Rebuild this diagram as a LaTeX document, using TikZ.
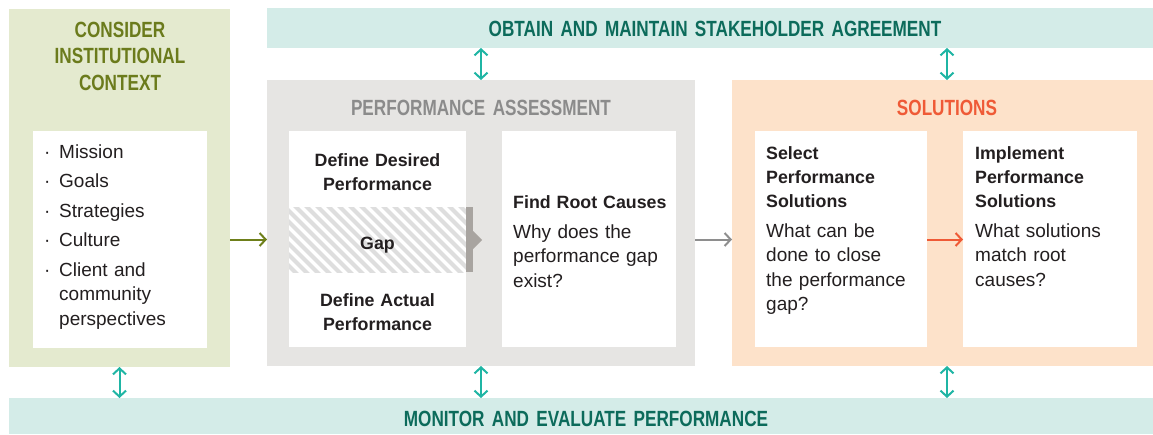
\documentclass[tikz,border=0pt]{standalone}
\usepackage{fontspec}
\setmainfont{Liberation Sans}
\newfontfamily\headfont{Liberation Sans Bold}[FakeStretch=0.78]
\usetikzlibrary{arrows.meta}
\definecolor{ctxbg}{HTML}{E4EACF}
\definecolor{ctxtitle}{HTML}{6B7B1C}
\definecolor{bandbg}{HTML}{D4ECE8}
\definecolor{bandtext}{HTML}{0C6B5B}
\definecolor{tealarrow}{HTML}{1FB5A4}
\definecolor{pabg}{HTML}{E6E5E3}
\definecolor{patitle}{HTML}{8B8B8B}
\definecolor{barc}{HTML}{A8A4A0}
\definecolor{solbg}{HTML}{FDE2CA}
\definecolor{soltitle}{HTML}{EF5A36}
\definecolor{stripe}{HTML}{DEDEDE}
\definecolor{grayarrow}{HTML}{8E8E8E}
\definecolor{greenarrow}{HTML}{6E7F1A}
\definecolor{ink}{HTML}{231F20}
\tikzset{
  box/.style={inner sep=0pt, outer sep=0pt, anchor=north west, draw=none},
  head/.style={inner sep=0pt, anchor=base, align=center, text width=300pt,
    font=\headfont\fontsize{22}{26.5}\selectfont},
  bodytext/.style={inner sep=0pt, anchor=base west, align=left, text=ink,
    font=\fontsize{19}{24.5}\selectfont},
  boldtext/.style={inner sep=0pt, anchor=base, align=center, text=ink, text width=170pt,
    font=\bfseries\fontsize{17.8}{24}\selectfont},
  dbl/.style={draw=tealarrow, line width=2pt,
    {Straight Barb[length=6pt,width=13pt]}-{Straight Barb[length=6pt,width=13pt]}},
  flow/.style={line width=2pt, -{Straight Barb[length=6pt,width=13pt]}},
}
\newcommand{\bulletitem}[1]{\makebox[15pt][l]{·}\begin{tabular}[t]{@{}l@{}}#1\end{tabular}\par}
\begin{document}
\begin{tikzpicture}[x=1pt,y=-1pt]
\useasboundingbox (0,0) rectangle (1153,434);
% containers
\node[box, fill=ctxbg, minimum width=221pt, minimum height=358pt] (ctx) at (9,9) {};
\node[box, fill=white, minimum width=174pt, minimum height=217pt] (ctxin) at (33,131) {};
\node[box, fill=bandbg, minimum width=886pt, minimum height=40pt] (agree) at (267,8) {};
\node[box, fill=bandbg, minimum width=1144pt, minimum height=36pt] (monitor) at (9,398) {};
\node[box, fill=pabg, minimum width=428pt, minimum height=286pt] (pa) at (267,80) {};
\node[box, fill=white, minimum width=177pt, minimum height=216pt] (defbox) at (289,131) {};
\node[box, fill=white, minimum width=174pt, minimum height=216pt] (rootbox) at (502,131) {};
\node[box, fill=solbg, minimum width=430pt, minimum height=286pt] (sol) at (732,80) {};
\node[box, fill=white, minimum width=172pt, minimum height=216pt] (selbox) at (755,131) {};
\node[box, fill=white, minimum width=174pt, minimum height=216pt] (impbox) at (963,131) {};
% gap band
\node[box, minimum width=177pt, minimum height=65pt] (gapband) at (289,207) {};
\begin{scope}
  \clip (gapband.north west) rectangle (gapband.south east);
  \foreach \i in {-88,-77,...,190}
    \draw[stripe, line width=4pt] (289+\i,200) -- ++(80,80);
\end{scope}
\fill[barc] (466,207) rectangle (473,272);
\fill[barc] (473,231) -- (482,240) -- (473,249) -- cycle;
% titles
\node[head, text=ctxtitle] (ctxt) at (120,37) {CONSIDER\\INSTITUTIONAL\\CONTEXT};
\node[head, text=bandtext, text width=600pt] (agreet) at (715,36) {OBTAIN AND MAINTAIN STAKEHOLDER AGREEMENT};
\node[head, text=bandtext, text width=600pt] (monitort) at (586,426) {MONITOR AND EVALUATE PERFORMANCE};
\node[head, text=patitle] (pat) at (481,115) {PERFORMANCE ASSESSMENT};
\node[head, text=soltitle] (solt) at (947,115) {SOLUTIONS};
% context list
\node[bodytext, text width=165pt] (ctxlist) at (44,158) {%
  \setlength{\parskip}{5pt}\setlength{\tabcolsep}{0pt}%
  \bulletitem{Mission}
  \bulletitem{Goals}
  \bulletitem{Strategies}
  \bulletitem{Culture}
  \bulletitem{Client and\\community\\perspectives}};
% performance assessment texts
\node[boldtext] (desired) at (377.5,166) {Define Desired\\Performance};
\node[boldtext] (gapt) at (377.5,249) {Gap};
\node[boldtext] (actual) at (377.5,306) {Define Actual\\Performance};
\node[boldtext, anchor=base west, align=left, text width=165pt] (roott) at (513,208) {Find Root Causes};
\node[bodytext, text width=165pt] (rootq) at (513,238) {Why does the\\performance gap\\exist?};
% solutions texts
\node[boldtext, anchor=base west, align=left, text width=160pt] (selt) at (766,159) {Select\\Performance\\Solutions};
\node[bodytext, text width=160pt] (selq) at (766,237) {What can be\\done to close\\the performance\\gap?};
\node[boldtext, anchor=base west, align=left, text width=160pt] (impt) at (975,159) {Implement\\Performance\\Solutions};
\node[bodytext, text width=160pt] (impq) at (975,237) {What solutions\\match root\\causes?};
% connectors
\draw[flow, greenarrow] (ctx.east |- gapband.center) -- (pa.west |- gapband.center);
\draw[flow, grayarrow] (pa.east |- gapband.center) -- (sol.west |- gapband.center);
\draw[flow, soltitle] (selbox.east |- gapband.center) -- (impbox.west |- gapband.center);
\draw[dbl] (agree.south -| pa.north) -- (pa.north);
\draw[dbl] (agree.south -| sol.north) -- (sol.north);
\draw[dbl] (ctx.south) -- (monitor.north -| ctx.south);
\draw[dbl] (pa.south) -- (monitor.north -| pa.south);
\draw[dbl] (sol.south) -- (monitor.north -| sol.south);
\end{tikzpicture}
\end{document}
